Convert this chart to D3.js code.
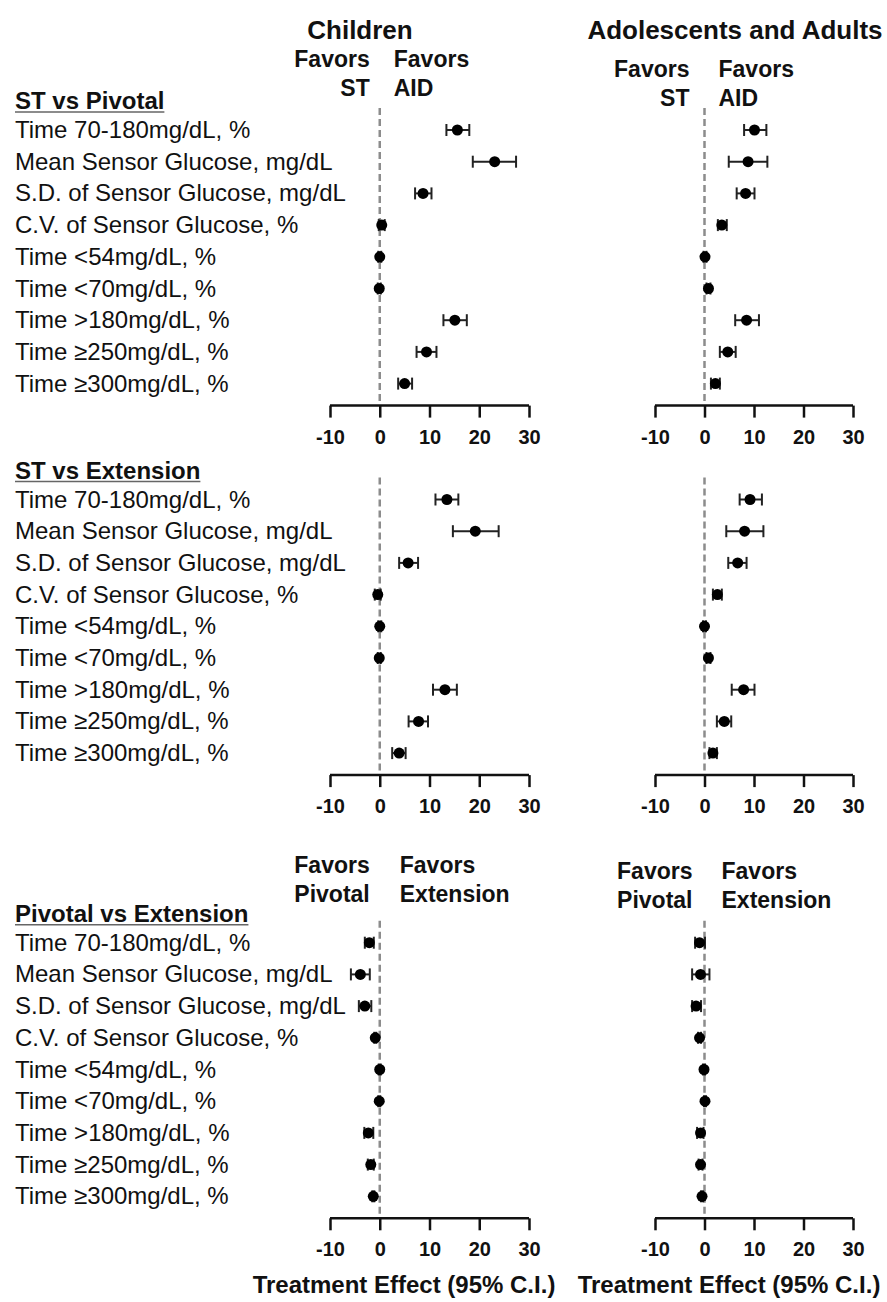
<!DOCTYPE html>
<html>
<head>
<meta charset="utf-8">
<script src="https://cdn.jsdelivr.net/npm/d3@7"></script>
<style>
  body { margin: 0; background: #fff; }
  text { font-family: "Liberation Sans", Arial, sans-serif; fill: #111; }
</style>
</head>
<body>
<div id="chart"></div>
<script>
// row labels (same for every comparison)
var metrics = [
  "Time 70-180mg/dL, %",
  "Mean Sensor Glucose, mg/dL",
  "S.D. of Sensor Glucose, mg/dL",
  "C.V. of Sensor Glucose, %",
  "Time <54mg/dL, %",
  "Time <70mg/dL, %",
  "Time >180mg/dL, %",
  "Time \u2265250mg/dL, %",
  "Time \u2265300mg/dL, %"
];
var comparisons = ["ST vs Pivotal", "ST vs Extension", "Pivotal vs Extension"];
var groups = ["Children", "Adolescents and Adults"];
var favorsLeft  = ["ST", null, "Pivotal"];
var favorsRight = ["AID", null, "Extension"];
var ticks = [-10, 0, 10, 20, 30];

// [estimate, lower CI, upper CI]
var childStPivotal = [[15.6, 13.4, 18.0], [23.1, 18.7, 27.4], [8.7, 7.1, 10.4], [0.4, -0.2, 1.0],
  [0.0, -0.3, 0.3], [-0.1, -0.4, 0.2], [15.1, 12.8, 17.5], [9.4, 7.4, 11.4], [5.0, 3.7, 6.5]];
var adultStPivotal = [[10.1, 8.0, 12.5], [8.8, 4.9, 12.7], [8.3, 6.5, 10.1], [3.5, 2.7, 4.5],
  [0.1, -0.2, 0.4], [0.8, 0.4, 1.2], [8.5, 6.2, 11.0], [4.7, 3.1, 6.3], [2.2, 1.3, 3.1]];
var childStExtension = [[13.5, 11.2, 15.8], [19.2, 14.7, 23.9], [5.7, 3.9, 7.7], [-0.4, -1.0, 0.2],
  [0.0, -0.3, 0.3], [-0.1, -0.4, 0.2], [13.1, 10.7, 15.5], [7.8, 5.8, 9.7], [3.9, 2.5, 5.2]];
var adultStExtension = [[9.2, 7.1, 11.6], [8.1, 4.4, 11.9], [6.7, 4.8, 8.5], [2.6, 1.7, 3.5],
  [0.0, -0.3, 0.3], [0.8, 0.4, 1.2], [7.9, 5.5, 10.1], [4.0, 2.5, 5.4], [1.7, 1.0, 2.5]];
var childPivExtension = [[-2.1, -3.0, -1.2], [-3.9, -5.8, -2.0], [-3.0, -4.2, -1.7], [-0.9, -1.1, -0.7],
  [0.0, -0.2, 0.2], [-0.1, -0.3, 0.1], [-2.3, -3.1, -1.3], [-1.8, -2.4, -1.2], [-1.3, -1.5, -1.1]];
var adultPivExtension = [[-1.0, -1.9, 0.1], [-0.8, -2.5, 1.0], [-1.7, -2.5, -0.7], [-1.0, -1.3, -0.7],
  [-0.1, -0.3, 0.1], [0.1, -0.1, 0.3], [-0.8, -1.5, -0.2], [-0.8, -1.2, -0.4], [-0.5, -0.7, -0.3]];

var panelData = [
  [childStPivotal, adultStPivotal],
  [childStExtension, adultStExtension],
  [childPivExtension, adultPivExtension]
];

var width = 887, height = 1302;
var rowTop = [130, 499.5, 942.7];   // y of first row in each block
var rowGap = 31.7;

var svg = d3.select("#chart").append("svg")
    .attr("width", width)
    .attr("height", height);

// one x scale per column
var xScales = [
  d3.scaleLinear().domain([-10, 30]).range([330, 529]),
  d3.scaleLinear().domain([-10, 30]).range([655, 853])
];

// column titles
svg.append("text").attr("x", 360).attr("y", 39).attr("text-anchor", "middle")
  .style("font-size", "26px").style("font-weight", "bold").text(groups[0]);
svg.append("text").attr("x", 735).attr("y", 39).attr("text-anchor", "middle")
  .style("font-size", "26px").style("font-weight", "bold").text(groups[1]);

// "Favors" labels: [block, column, baseline y, gap left, gap right]
var favorsPos = [
  [0, 0, 67, 10, 14],
  [0, 1, 77, 15, 14],
  [2, 0, 873, 10, 20],
  [2, 1, 879, 12, 17]
];
favorsPos.forEach(function(p) {
  var x0 = xScales[p[1]](0);
  var g = svg.append("g");
  var lt = g.append("text").attr("text-anchor", "end").attr("x", x0 - p[3]).attr("y", p[2])
    .style("font-size", "23px").style("font-weight", "bold");
  lt.append("tspan").attr("x", x0 - p[3]).text("Favors");
  lt.append("tspan").attr("x", x0 - p[3]).attr("dy", 29).text(favorsLeft[p[0]]);
  var rt = g.append("text").attr("x", x0 + p[4]).attr("y", p[2])
    .style("font-size", "23px").style("font-weight", "bold");
  rt.append("tspan").attr("x", x0 + p[4]).text("Favors");
  rt.append("tspan").attr("x", x0 + p[4]).attr("dy", 29).text(favorsRight[p[0]]);
});

comparisons.forEach(function(comp, b) {
  var y = d3.scalePoint().domain(metrics)
      .range([rowTop[b], rowTop[b] + rowGap * (metrics.length - 1)]);
  var axisY = y.range()[1] + 22;

  // block header with underline
  var hdr = svg.append("text").attr("x", 15).attr("y", rowTop[b] - 21)
    .style("font-size", "24px").style("font-weight", "bold").text(comp);
  var hw = hdr.node().getComputedTextLength();
  svg.append("line").attr("x1", 15).attr("x2", 15 + hw)
    .attr("y1", rowTop[b] - 18).attr("y2", rowTop[b] - 18)
    .attr("stroke", "#666").attr("stroke-width", 1.5);

  // row labels
  svg.selectAll(".lab" + b).data(metrics).enter().append("text")
    .attr("class", "lab" + b)
    .attr("x", 15)
    .attr("y", function(d) { return y(d) + 8; })
    .style("font-size", "24px")
    .text(function(d) { return d; });

  xScales.forEach(function(x, c) {
    var data = panelData[b][c];
    var g = svg.append("g");

    // zero line
    g.append("line")
      .attr("x1", x(0)).attr("x2", x(0))
      .attr("y1", rowTop[b] - 22).attr("y2", axisY)
      .attr("stroke", "#8c8c8c").attr("stroke-width", 2.5)
      .attr("stroke-dasharray", "7,4");

    // axis
    var ax = g.append("g")
      .attr("transform", "translate(0," + axisY + ")")
      .call(d3.axisBottom(x).tickValues(ticks).tickSize(12).tickPadding(12).tickFormat(d3.format("d")));
    ax.select(".domain").attr("stroke", "#111").attr("stroke-width", 2.5)
      .attr("d", "M" + x(-10) + ",0H" + x(30));
    ax.selectAll(".tick line").attr("stroke", "#111").attr("stroke-width", 2.5);
    ax.selectAll(".tick text")
      .style("font-family", "'Liberation Sans', Arial, sans-serif")
      .style("font-size", "20px").style("font-weight", "bold").attr("fill", "#111")
      .text(function(d) { return d < 0 ? "-" + Math.abs(d) : d; });

    // error bars
    var rows = g.selectAll(".row").data(data).enter().append("g")
      .attr("transform", function(d, i) { return "translate(0," + y(metrics[i]) + ")"; });
    rows.append("line")
      .attr("x1", function(d) { return x(d[1]); })
      .attr("x2", function(d) { return x(d[2]); })
      .attr("stroke", "#222").attr("stroke-width", 2);
    rows.append("line")
      .attr("x1", function(d) { return x(d[1]); }).attr("x2", function(d) { return x(d[1]); })
      .attr("y1", -6).attr("y2", 6)
      .attr("stroke", "#222").attr("stroke-width", 2);
    rows.append("line")
      .attr("x1", function(d) { return x(d[2]); }).attr("x2", function(d) { return x(d[2]); })
      .attr("y1", -6).attr("y2", 6)
      .attr("stroke", "#222").attr("stroke-width", 2);
    rows.append("circle")
      .attr("cx", function(d) { return x(d[0]); })
      .attr("r", 5.5)
      .attr("fill", "#000");
  });

  // x-axis title under the last block
  if (b === comparisons.length - 1) {
    [404, 729].forEach(function(cx) {
      svg.append("text").attr("x", cx).attr("y", 1293).attr("text-anchor", "middle")
        .style("font-size", "24px").style("font-weight", "bold")
        .text("Treatment Effect (95% C.I.)");
    });
  }
});
</script>
</body>
</html>
